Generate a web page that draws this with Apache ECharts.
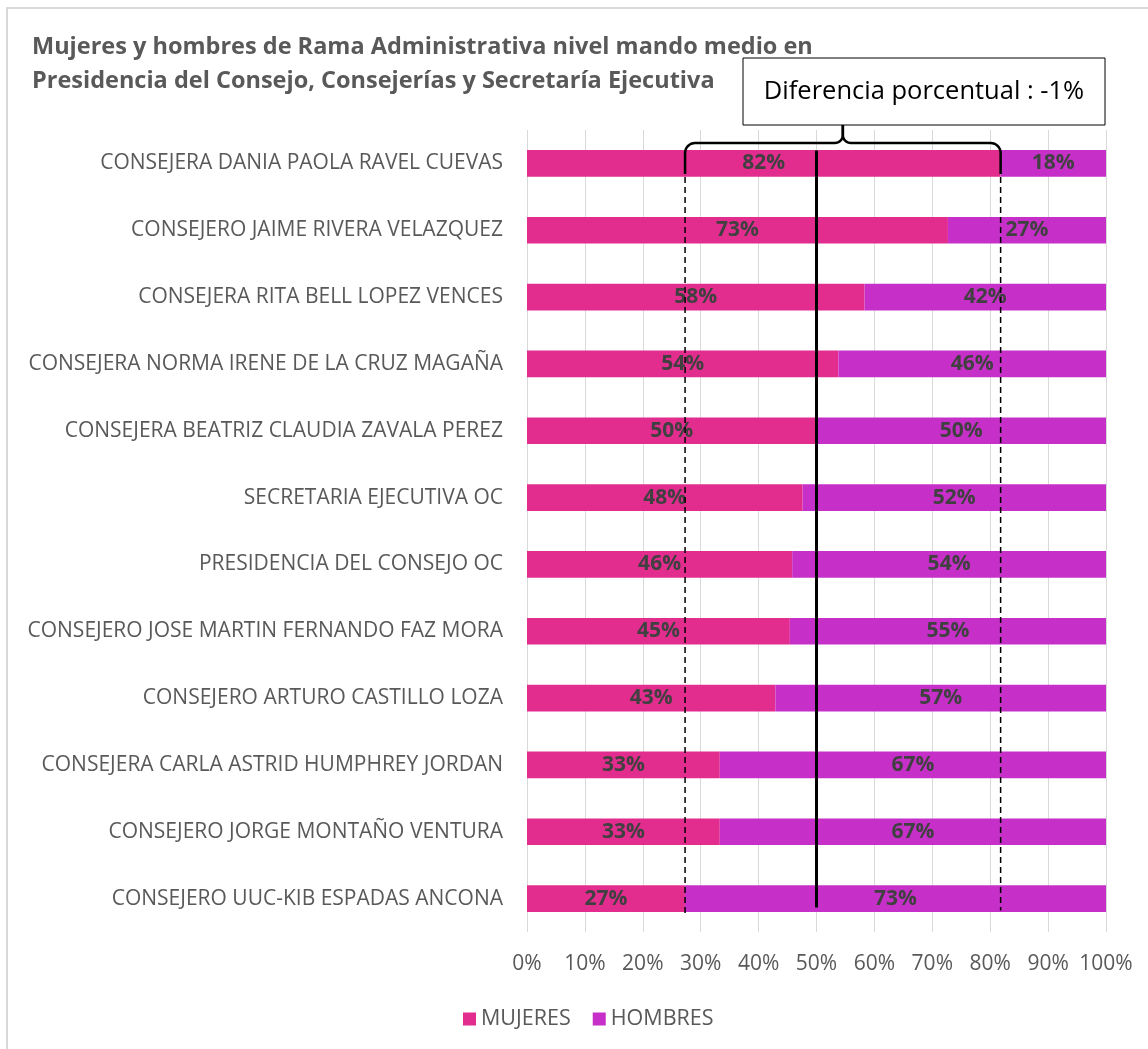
<!DOCTYPE html>
<html><head><meta charset="utf-8">
<script src="https://cdn.jsdelivr.net/npm/echarts@6/dist/echarts.min.js"></script>
<style>html,body{margin:0;padding:0;background:#fff}#c{width:1148px;height:1049px}</style>
</head><body><div id="c"></div>
<script>
const categories = [
  'CONSEJERA DANIA PAOLA RAVEL CUEVAS',
  'CONSEJERO JAIME RIVERA VELAZQUEZ',
  'CONSEJERA RITA BELL LOPEZ VENCES',
  'CONSEJERA NORMA IRENE DE LA CRUZ MAGAÑA',
  'CONSEJERA BEATRIZ CLAUDIA ZAVALA PEREZ',
  'SECRETARIA EJECUTIVA OC',
  'PRESIDENCIA DEL CONSEJO OC',
  'CONSEJERO JOSE MARTIN FERNANDO FAZ MORA',
  'CONSEJERO ARTURO CASTILLO LOZA',
  'CONSEJERA CARLA ASTRID HUMPHREY JORDAN',
  'CONSEJERO JORGE MONTAÑO VENTURA',
  'CONSEJERO UUC-KIB ESPADAS ANCONA'
];
const mujeres = [81.8, 72.7, 58.3, 53.8, 50.0, 47.6, 45.8, 45.4, 42.9, 33.3, 33.3, 27.3];
const hombres = [18.2, 27.3, 41.7, 46.2, 50.0, 52.4, 54.2, 54.6, 57.1, 66.7, 66.7, 72.7];
const seriesNames = ['MUJERES', 'HOMBRES'];
const titleText = 'Mujeres y hombres de Rama Administrativa nivel mando medio en\nPresidencia del Consejo, Consejerías y Secretaría Ejecutiva';
const annotationText = 'Diferencia porcentual : -1%';

const FONT = 'Open Sans';
const chart = echarts.init(document.getElementById('c'), null, {renderer: 'canvas'});
const labelCfg = {
  show: true, position: 'inside', fontFamily: FONT, fontSize: 21, fontWeight: 'bold', color: '#404040',
  formatter: p => Math.round(p.value) + '%'
};
chart.setOption({
  animation: false,
  textStyle: {fontFamily: FONT},
  title: {
    text: titleText, left: 27, top: 26,
    textStyle: {fontFamily: FONT, fontSize: 23.5, fontWeight: 'bold', color: '#595959', lineHeight: 33.5}
  },
  legend: {
    data: seriesNames, left: 458, top: 1003, icon: 'rect', itemWidth: 13, itemHeight: 13, itemGap: 22,
    textStyle: {fontFamily: FONT, fontSize: 21.5, color: '#595959'}
  },
  grid: {left: 527, right: 42, top: 130, bottom: 117},
  xAxis: {
    type: 'value', min: 0, max: 100, interval: 10,
    axisLine: {show: false}, axisTick: {show: false},
    splitLine: {lineStyle: {color: '#d9d9d9', width: 1}},
    axisLabel: {formatter: '{value}%', fontFamily: FONT, fontSize: 21, color: '#595959', margin: 22}
  },
  yAxis: {
    type: 'category', data: categories, inverse: true,
    axisLine: {show: false}, axisTick: {show: false},
    axisLabel: {fontFamily: FONT, fontSize: 21, color: '#595959', margin: 24}
  },
  series: [
    {name: seriesNames[0], type: 'bar', stack: 't', data: mujeres, barCategoryGap: '60%',
     itemStyle: {color: '#E22D8F'}, label: labelCfg},
    {name: seriesNames[1], type: 'bar', stack: 't', data: hombres, barCategoryGap: '60%',
     itemStyle: {color: '#C630C9'}, label: labelCfg}
  ]
});

const px = v => chart.convertToPixel({xAxisIndex: 0}, v);
const py = c => chart.convertToPixel({yAxisIndex: 0}, c);
const xl = px(Math.min(...mujeres));
const xr = px(Math.max(...mujeres));
const xm = px(50);
const xc = (xl + xr) / 2;
const yFirst = py(categories[0]);
const yLast = py(categories[categories.length - 1]);
const by = 143, tipY = 125, armY = 174, r = 10, r2 = 8;

function arc(cx, cy, rad, a0, a1) {
  const pts = [];
  const n = 8;
  for (let i = 0; i <= n; i++) {
    const a = (a0 + (a1 - a0) * i / n) * Math.PI / 180;
    pts.push([cx + rad * Math.cos(a), cy + rad * Math.sin(a)]);
  }
  return pts;
}
const leftBrace = [[xl, armY]]
  .concat(arc(xl + r, by + r, r, 180, 270))
  .concat(arc(xc - r2, by - r2, r2, 90, 0))
  .concat([[xc, tipY]]);
const rightBrace = [[xc, tipY]]
  .concat(arc(xc + r2, by - r2, r2, 180, 90))
  .concat(arc(xr - r, by + r, r, 270, 360))
  .concat([[xr, armY]]);

chart.setOption({
  graphic: [
    {type: 'rect', z: -10, silent: true, shape: {x: 7, y: 8, width: 1160, height: 1100},
     style: {fill: 'none', stroke: '#d9d9d9', lineWidth: 2}},
    {type: 'line', z: 100, shape: {x1: xm, y1: yFirst - 13, x2: xm, y2: yLast + 9},
     style: {stroke: '#000', lineWidth: 3}},
    {type: 'line', z: 100, shape: {x1: xl, y1: armY + 3, x2: xl, y2: yLast + 15},
     style: {stroke: '#000', lineWidth: 1.5, lineDash: [6, 4]}},
    {type: 'line', z: 100, shape: {x1: xr, y1: armY + 3, x2: xr, y2: yLast + 12},
     style: {stroke: '#000', lineWidth: 1.5, lineDash: [6, 4]}},
    {type: 'polyline', z: 100, shape: {points: leftBrace},
     style: {fill: 'none', stroke: '#000', lineWidth: 2.5}},
    {type: 'polyline', z: 100, shape: {points: rightBrace},
     style: {fill: 'none', stroke: '#000', lineWidth: 2.5}},
    {type: 'rect', z: 100, shape: {x: 743, y: 58, width: 362, height: 67},
     style: {fill: '#fff', stroke: '#000', lineWidth: 1}},
    {type: 'text', z: 101, x: 924, y: 91.5,
     style: {text: annotationText, fontFamily: FONT, fontSize: 25.5, fill: '#000', align: 'center', verticalAlign: 'middle'}}
  ]
});
</script></body></html>
